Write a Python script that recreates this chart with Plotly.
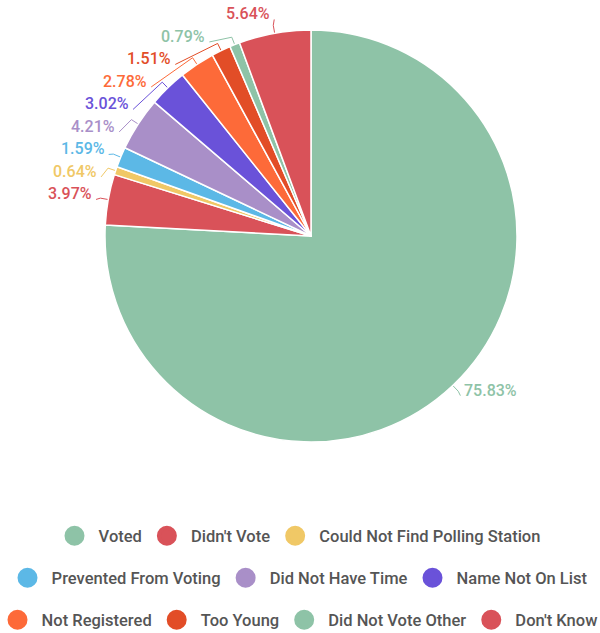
import math
import plotly.graph_objects as go

# ---- data ----
labels = ["Voted", "Didn't Vote", "Could Not Find Polling Station",
          "Prevented From Voting", "Did Not Have Time", "Name Not On List",
          "Not Registered", "Too Young", "Did Not Vote Other", "Don't Know"]
values = [75.83, 3.97, 0.64, 1.59, 4.21, 3.02, 2.78, 1.51, 0.79, 5.64]
colors = ["#8EC3A7", "#D95259", "#F0C866", "#5CB8E6", "#A98FC8",
          "#6A52D9", "#FD6A39", "#E24D27", "#8EC3A7", "#D95259"]
legend_rows = [[0, 1, 2], [3, 4, 5], [6, 7, 8, 9]]

# ---- layout constants (pixels) ----
W, H = 600, 633
CX, CY, R = 311, 236, 206
LR = 220      # label anchor radius
GAP = 22.5    # min vertical gap between labels
ELB = 8       # elbow offset beyond the pie edge
FONT = "Roboto, Arial, sans-serif"

fig = go.Figure()

fig.add_trace(go.Pie(
    labels=labels, values=values, sort=False, direction="clockwise",
    rotation=0, textinfo="none", hoverinfo="label+percent",
    marker=dict(colors=colors, line=dict(color="white", width=1.5)),
    showlegend=False,
    domain=dict(x=[(CX - R) / W, (CX + R) / W],
                y=[(H - CY - R) / H, (H - CY + R) / H]),
))

# mid angles (clockwise from 12 o'clock)
total = sum(values)
mids = []
acc = 0.0
for v in values:
    mids.append((acc + v / 2) / total * 2 * math.pi)
    acc += v

def pt(a, rad):
    return CX + rad * math.sin(a), CY - rad * math.cos(a)

# label placement
pos = {}
left = [i for i, a in enumerate(mids) if a > math.pi]
right = [i for i, a in enumerate(mids) if a <= math.pi]
for group in (left, right):
    items = sorted(group, key=lambda i: CY - LR * math.cos(mids[i]))
    prev = None
    for i in items:
        y = CY - LR * math.cos(mids[i])
        if prev is not None and y < prev + GAP:
            y = prev + GAP
        prev = y
        dy = max(-LR, min(LR, y - CY))
        dx = math.sqrt(LR * LR - dy * dy)
        x = CX - dx if i in left else CX + dx
        pos[i] = (x, y)

annotations = []
for i, v in enumerate(values):
    x, y = pos[i]
    is_left = mids[i] > math.pi
    ex, ey = pt(mids[i], R)
    bx, by = pt(mids[i], R + ELB)
    lx = x + 2 if is_left else x - 2
    fig.add_trace(go.Scatter(
        x=[lx, bx, ex], y=[y, by, ey], mode="lines",
        line=dict(color=colors[i], width=1), showlegend=False,
        hoverinfo="skip"))
    annotations.append(dict(
        x=x, y=y - 5.5, xref="x", yref="y", text=f"{v:.2f}%", showarrow=False,
        xanchor="right" if is_left else "left", yanchor="middle",
        font=dict(family=FONT, size=16, color=colors[i], weight=500)))

# legend-only traces, one legend per row
legend_names = ["legend", "legend2", "legend3"]
for r, row in enumerate(legend_rows):
    for i in row:
        fig.add_trace(go.Scatter(
            x=[None], y=[None], mode="markers", name="\u00a0" + labels[i],
            marker=dict(color=colors[i], size=20, symbol="circle",
                        line=dict(color=colors[i], width=4)),
            legend=legend_names[r], showlegend=True))

row_y = [536, 578, 620]
leg_common = dict(orientation="h", xanchor="center", x=0.5, yanchor="middle",
                  font=dict(family=FONT, size=16.5, color="#555555", weight=500),
                  bgcolor="rgba(0,0,0,0)", itemsizing="trace")

fig.update_layout(
    width=W, height=H,
    margin=dict(l=0, r=0, t=0, b=0, autoexpand=False),
    paper_bgcolor="white", plot_bgcolor="white",
    xaxis=dict(range=[0, W], visible=False, fixedrange=True),
    yaxis=dict(range=[H, 0], visible=False, fixedrange=True),
    annotations=annotations,
    legend=dict(leg_common, y=1 - row_y[0] / H),
    legend2=dict(leg_common, y=1 - row_y[1] / H),
    legend3=dict(leg_common, y=1 - row_y[2] / H),
    font=dict(family=FONT),
)

fig.write_html(
    "out.html",
    config={"displayModeBar": False},
    post_script="document.body.style.margin='0px';"
                "document.body.style.overflow='hidden';",
)
